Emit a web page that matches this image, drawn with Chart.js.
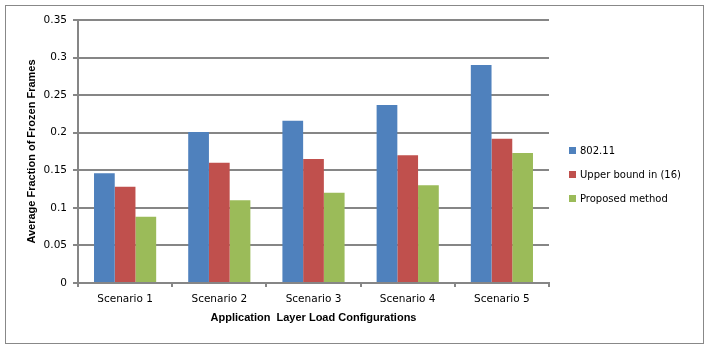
<!DOCTYPE html>
<html>
<head>
<meta charset="utf-8">
<script src="https://cdn.jsdelivr.net/npm/chart.js@4"></script>
<style>
  body { margin: 0; background: #fff; }
  #wrap { width: 708px; height: 348px; }
</style>
</head>
<body>
<div id="wrap"><canvas id="chart" width="708" height="348"></canvas></div>
<script>
// values
let categories = ['Scenario 1', 'Scenario 2', 'Scenario 3', 'Scenario 4', 'Scenario 5'];
let ieee80211 = [0.146, 0.201, 0.216, 0.237, 0.290];
let upperBound = [0.128, 0.160, 0.165, 0.170, 0.192];
let proposed = [0.088, 0.110, 0.120, 0.130, 0.173];
let seriesNames = ['802.11', 'Upper bound in (16)', 'Proposed method'];
let colors = ['#4F81BD', '#C0504D', '#9BBB59'];

let gridCol = '#868686';

// outer frame of the chart
let framePlugin = {
    id: 'frame',
    beforeDraw: chart => {
        let ctx = chart.ctx;
        ctx.save();
        ctx.fillStyle = '#fff';
        ctx.fillRect(0, 0, chart.width, chart.height);
        ctx.strokeStyle = '#888';
        ctx.lineWidth = 1;
        ctx.strokeRect(5.5, 5.5, 698, 338);
        ctx.restore();
    }
}

// legend drawn by hand so it sits where the original has it
let legendPlugin = {
    id: 'sideLegend',
    afterDraw: chart => {
        let ctx = chart.ctx;
        ctx.save();
        ctx.font = '10px "DejaVu Sans"';
        ctx.textBaseline = 'middle';
        chart.data.datasets.forEach((ds, i) => {
            let y = 150.5 + i * 24;
            ctx.fillStyle = ds.backgroundColor;
            ctx.fillRect(569, y - 3.5, 7, 7);
            ctx.fillStyle = '#000';
            ctx.fillText(ds.label, 580, y + 0.5);
        })
        ctx.restore();
    }
}

let datasets = [ieee80211, upperBound, proposed].map((vals, i) => {
    return {
        label: seriesNames[i],
        data: vals,
        backgroundColor: colors[i],
        borderWidth: 0,
        categoryPercentage: 0.66,
        barPercentage: 1
    }
})

new Chart(document.getElementById('chart'), {
    type: 'bar',
    data: { labels: categories, datasets: datasets },
    plugins: [framePlugin, legendPlugin],
    options: {
        responsive: false,
        animation: false,
        layout: { padding: { top: 20, right: 159, bottom: 0, left: 0 } },
        plugins: {
            legend: { display: false },
            tooltip: { enabled: false }
        },
        scales: {
            x: {
                grid: {
                    offset: true,
                    drawOnChartArea: false,
                    drawTicks: true,
                    tickLength: 4,
                    tickColor: gridCol,
                    lineWidth: 2
                },
                border: { color: gridCol, width: 2 },
                ticks: {
                    color: '#000',
                    padding: 6,
                    font: { family: 'DejaVu Sans', size: 10.5 },
                    maxRotation: 0
                },
                title: {
                    display: true,
                    text: 'Application  Layer Load Configurations',
                    color: '#000',
                    font: { family: 'Liberation Sans', size: 11, weight: 'bold' },
                    padding: { top: 4, bottom: 23 }
                },
                afterFit: scale => { scale.height = 65; }
            },
            y: {
                min: 0,
                max: 0.35,
                grid: {
                    color: gridCol,
                    lineWidth: 2,
                    tickLength: 5,
                    tickColor: gridCol
                },
                border: { color: gridCol, width: 2 },
                ticks: {
                    stepSize: 0.05,
                    color: '#000',
                    padding: 6,
                    font: { family: 'DejaVu Sans', size: 10.5 },
                    callback: v => String(+v.toFixed(2))
                },
                title: {
                    display: true,
                    text: 'Average Fraction of Frozen Frames',
                    color: '#000',
                    font: { family: 'Liberation Sans', size: 11, weight: 'bold' },
                    padding: { top: 25, bottom: 0 }
                },
                afterFit: scale => { scale.width = 78; }
            }
        }
    }
})
</script>
</body>
</html>
